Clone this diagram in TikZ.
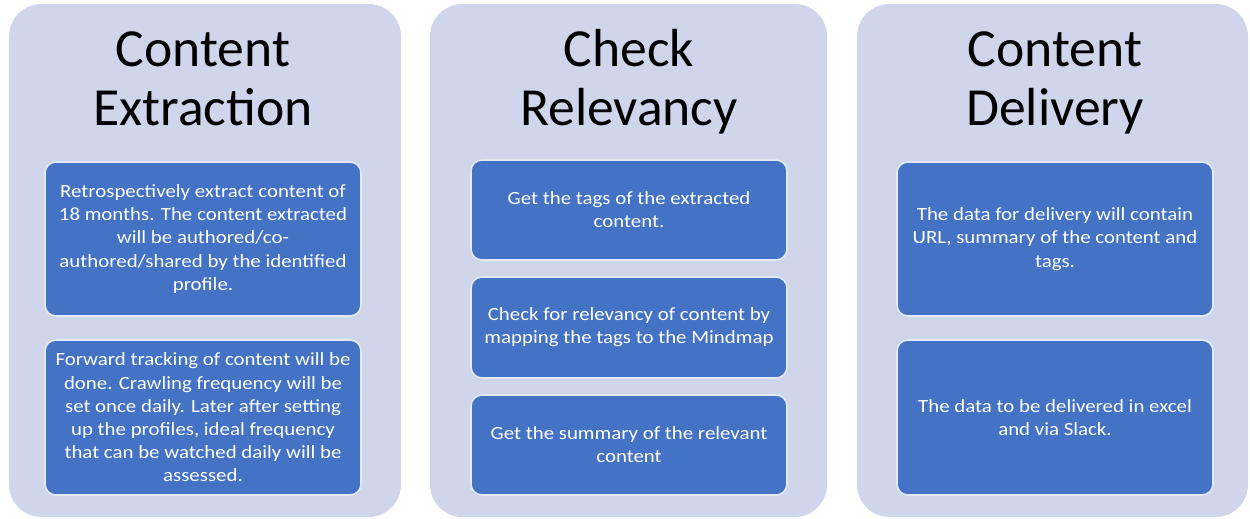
\documentclass[tikz,border=0pt]{standalone}
\usepackage{fontspec}
\setmainfont{Carlito}[FakeStretch=1.12]
\newfontfamily\headfont{Carlito}
\usepackage{tikz}
\usetikzlibrary{positioning}
\definecolor{panelblue}{HTML}{CFD5EA}
\definecolor{boxblue}{HTML}{4472C4}
\tikzstyle{panel} = [fill=panelblue, draw=none, rounded corners=0.65cm]
\tikzstyle{title} = [align=center, font=\headfont\fontsize{30.5}{34}\selectfont, text=black]
\tikzstyle{taskbox} = [rectangle, rounded corners=0.22cm, minimum width=6.32cm, inner sep=0pt, align=center, draw=white!85!boxblue, line width=0.9pt, fill=boxblue, text=white, font=\fontsize{10.6}{13.2}\selectfont]

\begin{document}
\begin{tikzpicture}
\useasboundingbox (0,0) rectangle (25,10.36);
% Panels
\draw[panel] (0.18,0.02) rectangle (8.02,10.28);
\draw[panel] (8.6,0.02) rectangle (16.54,10.28);
\draw[panel] (17.14,0.02) rectangle (24.96,10.28);

% Content Extraction
\node[title] (t1) at (4.06,8.68) {\strut Content\\\strut Extraction};
\node[taskbox, minimum height=3.08cm] (ext1) at (4.06,5.58) {Retrospectively extract content of\\18 months. The content extracted\\will be authored/co-\\authored/shared by the identified\\profile.};
\node[taskbox, minimum height=3.1cm] (ext2) at (4.06,2.01) {Forward tracking of content will be\\done. Crawling frequency will be\\set once daily. Later after setting\\up the profiles, ideal frequency\\that can be watched daily will be\\assessed.};

% Check Relevancy
\node[title] (t2) at (12.58,8.68) {\strut Check\\\strut Relevancy};
\node[taskbox, minimum height=2.0cm] (rel1) at (12.58,6.16) {Get the tags of the extracted\\content.};
\node[taskbox, minimum height=2.02cm] (rel2) at (12.58,3.81) {Check for relevancy of content by\\mapping the tags to the Mindmap};
\node[taskbox, minimum height=2.0cm] (rel3) at (12.58,1.46) {Get the summary of the relevant\\content};

% Content Delivery
\node[title] (t3) at (21.1,8.68) {\strut Content\\\strut Delivery};
\node[taskbox, minimum height=3.08cm] (del1) at (21.1,5.58) {The data for delivery will contain\\URL, summary of the content and\\tags.};
\node[taskbox, minimum height=3.1cm] (del2) at (21.1,2.01) {The data to be delivered in excel\\and via Slack.};
\end{tikzpicture}
\end{document}
